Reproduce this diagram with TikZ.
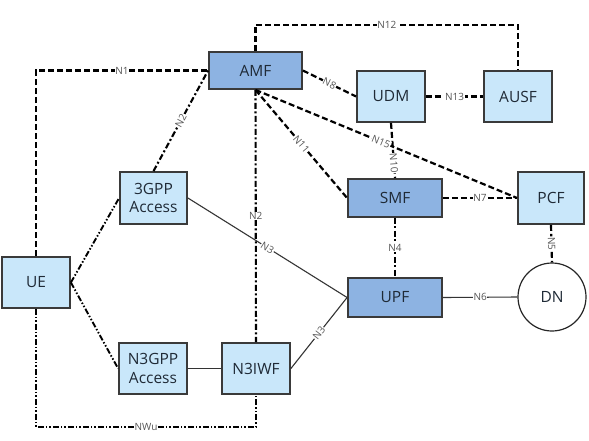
\documentclass[tikz,border=0pt]{standalone}
\usepackage{fontspec}
\setmainfont{Open Sans}
\begin{document}
\definecolor{nflight}{HTML}{C9E7FA}
\definecolor{nfdark}{HTML}{8DB3E2}
\definecolor{nfedge}{HTML}{3A3A3A}
\definecolor{nftext}{HTML}{1F2A36}
\definecolor{lbltext}{HTML}{555555}
\begin{tikzpicture}[x=1pt,y=-1pt,
  nfbox/.style={draw=nfedge,line width=1.8pt,fill=nflight,text=nftext,
    font=\fontsize{15.5}{18.5}\selectfont,align=center,inner sep=0pt},
  nfdarkbox/.style={nfbox,fill=nfdark},
  lbl/.style={font=\fontsize{10}{11}\selectfont,text=lbltext,fill=white,inner sep=0.6pt},
  ctrl/.style={line width=2.2pt,draw=black,dash pattern=on 6pt off 3pt},
  ctrldot/.style={line width=2.1pt,draw=black,dash pattern=on 6pt off 2.5pt on 2pt off 2.5pt},
  radio/.style={line width=1.9pt,draw=black,dash pattern=on 6pt off 2pt on 1.5pt off 2pt on 1.5pt off 2pt},
  user/.style={line width=1.1pt,draw=black!80}]
\useasboundingbox (0,0) rectangle (589,440);

% network functions
\node[nfdarkbox,minimum width=93pt,minimum height=37pt] (amf) at (255.5,70.5) {AMF};
\node[nfbox,minimum width=68pt,minimum height=51pt] (udm) at (391,96.5) {UDM};
\node[nfbox,minimum width=68pt,minimum height=51pt] (ausf) at (518,96.5) {AUSF};
\node[nfdarkbox,minimum width=94pt,minimum height=38pt] (smf) at (395,198) {SMF};
\node[nfbox,minimum width=66pt,minimum height=52pt] (pcf) at (551,198) {PCF};
\node[nfbox,minimum width=67pt,minimum height=52pt] (acc) at (153.5,198) {3GPP\\Access};
\node[nfbox,minimum width=68pt,minimum height=51pt] (ue) at (36,282.5) {UE};
\node[nfbox,minimum width=68pt,minimum height=51pt] (nacc) at (153,368.5) {N3GPP\\Access};
\node[nfbox,minimum width=68pt,minimum height=51pt] (n3iwf) at (256,368.5) {N3IWF};
\node[nfdarkbox,minimum width=94pt,minimum height=39pt] (upf) at (395,297.5) {UPF};
\node[circle,draw=black!85,line width=1.2pt,fill=white,minimum size=68pt,inner sep=0pt,
  text=nftext,font=\fontsize{15.5}{18.5}\selectfont] (dn) at (552,297) {DN};

% routing corners
\coordinate (n1c) at (ue.north |- amf.west);
\coordinate (n12a) at (amf.north |- 0,25);
\coordinate (n12b) at (ausf.north |- 0,25);
\coordinate (nwa) at (ue.south |- 0,427);
\coordinate (nwb) at (n3iwf.south |- 0,427);

% user plane
\draw[user] (acc.east) -- node[lbl,sloped] {N3} (upf.west);
\draw[user] (n3iwf.east) -- node[lbl,sloped] {N3} (upf.west);
\draw[user] (nacc.east) -- (n3iwf.west);
\draw[user] (upf.east) -- node[lbl] {N6} (dn.west);

% radio / untrusted access
\draw[radio] (ue.east) -- (acc.west);
\draw[radio] (ue.east) -- (nacc.west);
\draw[radio] (ue.south) -- (nwa) -- node[lbl] {NWu} (nwb) -- (n3iwf.south);

% control plane
\draw[ctrl] (ue.north) -- (n1c) -- node[lbl] {N1} (amf.west);
\draw[ctrldot] (acc.north) -- node[lbl,sloped] {N2} (amf.west);
\draw[ctrldot] (amf.south) -- node[lbl] {N2} (n3iwf.north);
\draw[ctrl] (amf.north) -- (n12a) -- node[lbl] {N12} (n12b) -- (ausf.north);
\draw[ctrl] (amf.east) -- node[lbl,sloped] {N8} (udm.west);
\draw[ctrl] (udm.east) -- node[lbl] {N13} (ausf.west);
\draw[ctrl] (udm.south) -- node[lbl,sloped,pos=0.73] {N10} (smf.north);
\draw[ctrl] (amf.south) -- node[lbl,sloped] {N11} (smf.west);
\draw[ctrl] (amf.south) -- node[lbl,sloped,pos=0.48] {N15} (pcf.west);
\draw[ctrl] (smf.east) -- node[lbl] {N7} (pcf.west);
\draw[ctrldot] (smf.south) -- node[lbl] {N4} (upf.north);
\draw[ctrl] (pcf.south) -- node[lbl,sloped] {N5} (dn.north);
\end{tikzpicture}
\end{document}
